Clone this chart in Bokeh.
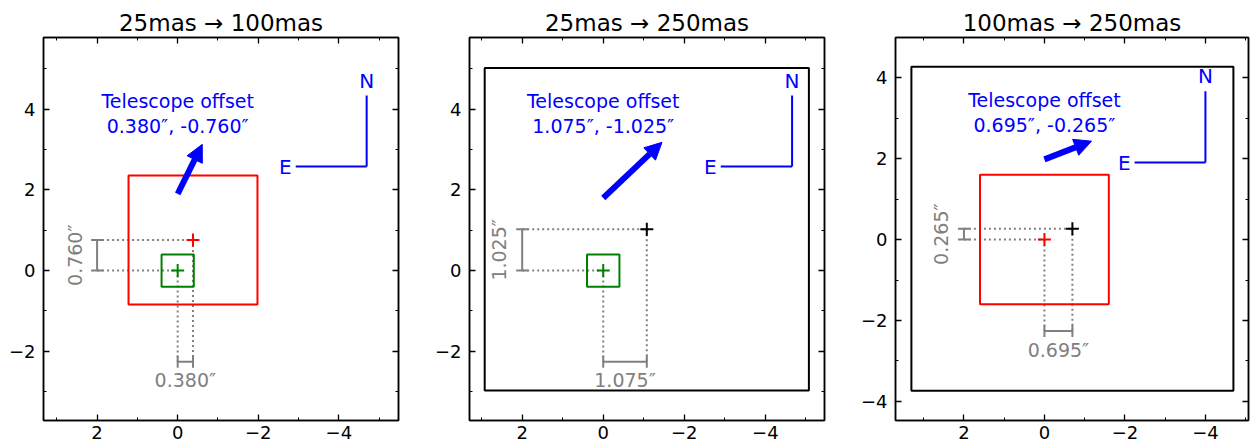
import numpy as np
from bokeh.plotting import figure
from bokeh.layouts import row
from bokeh.models import (Range1d, LinearAxis, FixedTicker, Arrow, NormalHead,
                          Label, Whisker, TeeHead, ColumnDataSource)
from bokeh.embed import file_html
from bokeh.resources import INLINE

# ---------------- data ----------------
titles = ["25mas \u2192 100mas", "25mas \u2192 250mas", "100mas \u2192 250mas"]
offset_ra = [0.380, 1.075, 0.695]       # telescope offset, arcsec (shown)
offset_dec = [-0.760, -1.025, -0.265]
src_fov = [0.8, 0.8, 3.2]               # source field of view size (arcsec)
tgt_fov = [3.2, 8.0, 8.0]               # target field of view size (arcsec)
src_color = ["green", "green", "red"]
tgt_color = ["red", "black", "black"]

x_lo = [3.33, 3.30, 3.70]
x_hi = [-5.48, -5.46, -5.07]
y_lo = [-3.72, -3.72, -4.47]
y_hi = [5.78, 5.78, 4.99]

arrow_x0 = [0.0, 0.0, 0.0]
arrow_y0 = [1.90, 1.80, 1.98]
arrow_x1 = [-0.61, -1.45, -1.17]
arrow_y1 = [3.13, 3.18, 2.43]
label_y = [3.31, 3.31, 2.55]

compass_x = [-4.69, -4.66, -4.00]
compass_y = [2.58, 2.58, 1.90]
compass_len = 1.76

bar_x = 2.0          # position of vertical measure bar
bar_y = -2.26        # position of horizontal measure bar
vlabel_x = 2.56
hlabel_y = -2.72

major_ticks = [-8, -6, -4, -2, 0, 2, 4, 6, 8]
minor_ticks = list(range(-9, 10))

# layout (pixels)
fig_w = [408, 426, 416]
border_l = [43, 61, 61]
border_r = [10, 10, 2]
fig_h = 448
border_t = 37
border_b = 28

FONT = "DejaVu Sans"
GRAY = "#808080"
minus_over = {-2: "\u22122", -4: "\u22124", -6: "\u22126", -8: "\u22128"}


def style_axis(ax, show_labels, standoff=5):
    ax.ticker = FixedTicker(ticks=major_ticks, minor_ticks=minor_ticks)
    ax.axis_line_width = 1.5
    ax.axis_line_color = "black"
    ax.major_tick_in = 6
    ax.major_tick_out = 0
    ax.minor_tick_in = 3
    ax.minor_tick_out = 0
    ax.major_tick_line_width = 1.3
    ax.minor_tick_line_width = 1.0
    ax.major_tick_line_color = "black"
    ax.minor_tick_line_color = "black"
    if show_labels:
        ax.major_label_text_font = FONT
        ax.major_label_text_font_size = "18px"
        ax.major_label_text_color = "black"
        ax.major_label_standoff = standoff
        ax.major_label_overrides = minus_over
    else:
        ax.major_label_text_font_size = "1px"
        ax.major_label_text_color = None
        ax.major_label_standoff = 0


def make_panel(i):
    p = figure(width=fig_w[i], height=fig_h,
               x_range=Range1d(x_lo[i], x_hi[i]), y_range=Range1d(y_lo[i], y_hi[i]),
               output_backend="svg", toolbar_location=None,
               min_border_left=border_l[i], min_border_right=border_r[i],
               min_border_top=border_t, min_border_bottom=border_b,
               title=titles[i])
    p.title.text_font = FONT
    p.title.text_font_size = "23px"
    p.title.text_font_style = "normal"
    p.title.text_color = "black"
    p.title.align = "center"
    p.title.standoff = 4
    p.grid.visible = False
    p.outline_line_color = "black"
    p.outline_line_width = 1.5
    for ax in p.xaxis:
        style_axis(ax, True, 5)
    for ax in p.yaxis:
        style_axis(ax, True, 8)
    top = LinearAxis()
    style_axis(top, False)
    p.add_layout(top, "above")
    right = LinearAxis()
    style_axis(right, False)
    p.add_layout(right, "right")

    tx = -offset_ra[i]
    ty = -offset_dec[i]

    # dotted guide lines
    p.segment(x0=[bar_x, bar_x, 0.0, tx], y0=[0.0, ty, 0.0, ty],
              x1=[0.0, tx, 0.0, tx], y1=[0.0, ty, bar_y, bar_y],
              line_color=GRAY, line_width=2, line_dash="2 3")

    # measure bars
    vsrc = ColumnDataSource(dict(base=[bar_x], lower=[0.0], upper=[ty]))
    p.add_layout(Whisker(source=vsrc, base="base", lower="lower", upper="upper",
                         dimension="height", line_color=GRAY, line_width=2,
                         upper_head=TeeHead(size=12, line_color=GRAY, line_width=2),
                         lower_head=TeeHead(size=12, line_color=GRAY, line_width=2)))
    hsrc = ColumnDataSource(dict(base=[bar_y], lower=[0.0], upper=[tx]))
    p.add_layout(Whisker(source=hsrc, base="base", lower="lower", upper="upper",
                         dimension="width", line_color=GRAY, line_width=2,
                         upper_head=TeeHead(size=12, line_color=GRAY, line_width=2),
                         lower_head=TeeHead(size=12, line_color=GRAY, line_width=2)))

    p.add_layout(Label(x=vlabel_x, y=ty / 2.0, text=f"{abs(offset_dec[i]):.3f}\u2033",
                       angle=np.pi / 2, text_align="center", text_baseline="middle",
                       text_font=FONT, text_font_size="19px", text_color=GRAY))
    p.add_layout(Label(x=tx / 2.0, y=hlabel_y, text=f"{abs(offset_ra[i]):.3f}\u2033",
                       text_align="center", text_baseline="middle",
                       text_font=FONT, text_font_size="19px", text_color=GRAY))

    # fields of view
    p.rect(x=[0.0], y=[0.0], width=[src_fov[i]], height=[src_fov[i]],
           fill_color=None, line_color=src_color[i], line_width=2)
    p.rect(x=[tx], y=[ty], width=[tgt_fov[i]], height=[tgt_fov[i]],
           fill_color=None, line_color=tgt_color[i], line_width=2)

    # centres
    p.scatter(x=[0.0], y=[0.0], marker="cross", size=13,
              line_color=src_color[i], line_width=2)
    p.scatter(x=[tx], y=[ty], marker="cross", size=13,
              line_color=tgt_color[i], line_width=2)

    # telescope offset arrow + text
    p.add_layout(Arrow(x_start=arrow_x0[i], y_start=arrow_y0[i],
                       x_end=arrow_x1[i], y_end=arrow_y1[i],
                       line_color="blue", line_width=6,
                       end=NormalHead(size=17, fill_color="blue", line_color="blue",
                                      line_width=1)))
    p.add_layout(Label(x=0.0, y=label_y[i],
                       text=f"Telescope offset\n{offset_ra[i]:.3f}\u2033, {offset_dec[i]:.3f}\u2033",
                       text_align="center", text_baseline="bottom",
                       text_font=FONT, text_font_size="19px", text_color="blue",
                       text_line_height=1.15))

    # compass
    cx, cy = compass_x[i], compass_y[i]
    p.segment(x0=[cx, cx], y0=[cy, cy], x1=[cx, cx + compass_len], y1=[cy + compass_len, cy],
              line_color="blue", line_width=2)
    p.add_layout(Label(x=cx, y=cy + compass_len, y_offset=3, text="N",
                       text_align="center", text_baseline="bottom",
                       text_font=FONT, text_font_size="20px", text_color="blue"))
    p.add_layout(Label(x=cx + compass_len, y=cy, x_offset=-4, text="E",
                       text_align="right", text_baseline="middle",
                       text_font=FONT, text_font_size="20px", text_color="blue"))
    return p


layout = row(*[make_panel(i) for i in range(3)])
open("out.html", "w").write(file_html(layout, INLINE))
